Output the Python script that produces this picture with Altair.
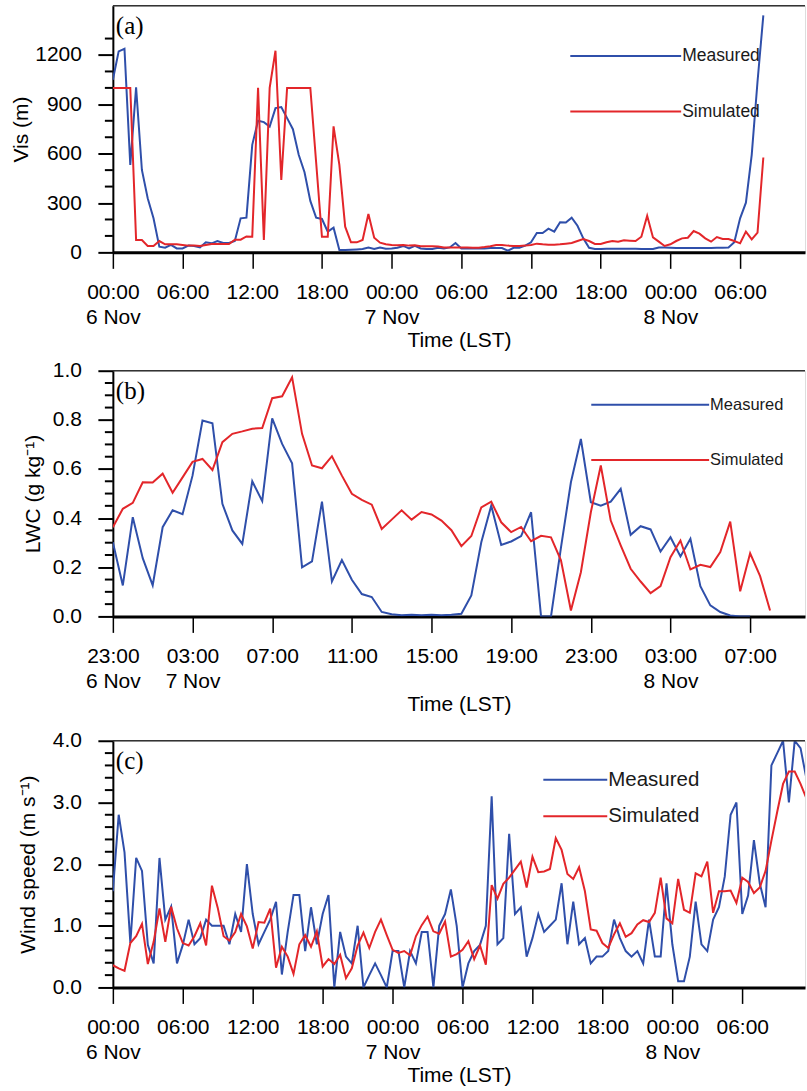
import altair as alt
import numpy as np
import pandas as pd

BLUE = "#2f4faa"
RED = "#e3262a"
FONT = "Liberation Sans"
SERIF = "Liberation Serif"

# ---------------- data (half-hourly) ----------------
# (a) Visibility, from 00:00 6 Nov
vis_start = 0.0
vis_measured = [
    1050, 1222, 1238, 532, 1003, 501, 329, 207, 35, 28,
    45, 24, 24, 41, 39, 30, 61, 55, 69, 57,
    57, 69, 207, 211, 654, 800, 792, 765, 877, 883,
    816, 749, 593, 487, 313, 211, 203, 126, 150, 14,
    14, 16, 18, 20, 30, 20, 30, 22, 24, 28,
    39, 24, 39, 24, 20, 20, 28, 24, 30, 57,
    24, 24, 24, 24, 24, 26, 26, 26, 10, 28,
    28, 41, 61, 118, 118, 144, 126, 183, 181, 211,
    162, 85, 28, 20, 20, 22, 22, 22, 22, 22,
    22, 20, 20, 20, 30, 30, 28, 26, 26, 26,
    26, 26, 26, 26, 28, 28, 30, 61, 207, 302,
    593, 1039, 1441,
]
vis_simulated = [
    1000, 1000, 1000, 1000, 75, 75, 39, 39, 69, 49,
    49, 49, 45, 41, 41, 39, 45, 51, 51, 51,
    51, 77, 77, 97, 95, 1000, 75, 1000, 1226, 440,
    1000, 1000, 1000, 1000, 1000, 548, 95, 95, 766, 532,
    156, 61, 61, 75, 233, 89, 59, 49, 45, 43,
    45, 41, 43, 37, 37, 37, 35, 30, 30, 30,
    30, 30, 28, 28, 32, 37, 45, 45, 41, 39,
    39, 41, 45, 53, 49, 47, 47, 49, 53, 57,
    69, 81, 69, 51, 51, 61, 69, 65, 73, 71,
    69, 95, 223, 91, 65, 39, 49, 69, 85, 89,
    130, 114, 85, 65, 93, 81, 81, 69, 55, 126,
    79, 120, 577,
]

# (b) LWC, from 23:00 6 Nov (hour 23)
lwc_start = 23.0
lwc_measured = [
    0.302, 0.126, 0.404, 0.237, 0.126, 0.363, 0.432, 0.416, 0.573, 0.797,
    0.786, 0.458, 0.350, 0.295, 0.550, 0.469, 0.806, 0.702, 0.623, 0.200,
    0.224, 0.467, 0.142, 0.229, 0.149, 0.091, 0.079, 0.018, 0.009, 0.005,
    0.007, 0.005, 0.007, 0.005, 0.007, 0.011, 0.085, 0.302, 0.451, 0.291,
    0.305, 0.327, 0.424, 0.0, 0.0, 0.28, 0.546, 0.722, 0.465, 0.451,
    0.467, 0.519, 0.332, 0.367, 0.354, 0.264, 0.322, 0.244, 0.316, 0.123,
    0.045, 0.018, 0.004, 0.0, 0.0,
]
lwc_simulated = [
    0.363, 0.438, 0.462, 0.546, 0.545, 0.581, 0.503, 0.566, 0.629, 0.641,
    0.596, 0.709, 0.743, 0.753, 0.764, 0.767, 0.888, 0.896, 0.973, 0.743,
    0.614, 0.603, 0.652, 0.573, 0.499, 0.474, 0.455, 0.356, 0.394, 0.432,
    0.394, 0.425, 0.415, 0.390, 0.351, 0.286, 0.327, 0.444, 0.467, 0.383,
    0.343, 0.364, 0.306, 0.328, 0.322, 0.228, 0.024, 0.180, 0.424, 0.614,
    0.390, 0.289, 0.194, 0.142, 0.095, 0.123, 0.241, 0.309, 0.191, 0.210,
    0.201, 0.262, 0.386, 0.102, 0.257, 0.164, 0.024,
]

# (c) Wind speed, from 00:00 6 Nov
ws_start = 0.0
ws_measured = [
    1.56, 2.80, 2.19, 0.72, 2.10, 1.89, 0.69, 0.39, 2.10, 1.10,
    1.31, 0.39, 0.69, 1.10, 0.70, 0.80, 1.10, 1.00, 1.00, 1.00,
    0.70, 1.19, 0.90, 2.00, 1.19, 0.70, 0.90, 1.10, 1.39, 0.21,
    0.90, 1.50, 1.50, 0.59, 1.30, 0.70, 1.19, 1.50, 0.00, 0.90,
    0.50, 0.39, 1.00, 0.00, 0.20, 0.39, 0.20, 0.00, 0.59, 0.59,
    0.00, 0.59, 0.39, 0.90, 0.90, 0.00, 1.00, 1.19, 1.59, 1.00,
    0.00, 0.39, 0.59, 0.69, 1.00, 3.10, 0.70, 0.80, 2.49, 1.19,
    1.30, 0.50, 0.80, 1.19, 0.90, 1.00, 1.10, 1.69, 0.70, 1.39,
    0.70, 0.80, 0.39, 0.50, 0.50, 0.59, 1.10, 0.80, 0.59, 0.50,
    0.59, 0.39, 1.10, 0.50, 0.50, 1.69, 0.70, 0.10, 0.10, 0.50,
    1.39, 0.70, 0.59, 1.10, 1.30, 1.80, 2.80, 3.00, 1.19, 1.49,
    2.39, 1.69, 1.30, 3.60, 3.80, 4.00, 3.00, 4.00, 3.88, 3.39,
]
ws_simulated = [
    0.36, 0.31, 0.27, 0.72, 0.83, 1.03, 0.38, 0.74, 1.28, 0.74,
    1.31, 0.96, 0.72, 0.68, 0.83, 1.04, 0.68, 1.65, 1.29, 0.83,
    0.76, 0.90, 1.19, 0.99, 0.63, 1.06, 1.05, 1.28, 0.32, 0.66,
    0.50, 0.22, 0.70, 0.85, 0.66, 0.91, 0.34, 0.46, 0.38, 0.53,
    0.15, 0.31, 0.68, 0.89, 0.64, 0.90, 1.10, 0.85, 0.61, 0.56,
    0.59, 0.52, 0.83, 1.01, 1.15, 0.91, 0.87, 1.07, 0.50, 0.54,
    0.61, 0.75, 0.46, 0.68, 0.37, 1.66, 1.44, 1.68, 1.78, 1.91,
    2.04, 1.62, 2.12, 1.87, 1.88, 1.92, 2.42, 2.23, 1.84, 1.76,
    1.95, 1.56, 0.94, 0.92, 0.72, 0.64, 0.86, 1.04, 0.82, 0.88,
    1.02, 1.09, 1.06, 1.21, 1.78, 1.12, 1.04, 1.76, 1.26, 1.21,
    1.85, 1.80, 2.04, 1.21, 1.56, 1.56, 1.57, 1.37, 1.78, 1.71,
    1.53, 1.62, 1.89, 2.38, 2.85, 3.30, 3.50, 3.50, 3.30, 3.07,
]

# axis tick values
vis_major = [0, 300, 600, 900, 1200]
vis_minor = [100, 200, 400, 500, 700, 800, 1000, 1100, 1300]
lwc_major = [0.0, 0.2, 0.4, 0.6, 0.8, 1.0]
lwc_minor = [0.05, 0.1, 0.15, 0.25, 0.3, 0.35, 0.45, 0.5, 0.55,
             0.65, 0.7, 0.75, 0.85, 0.9, 0.95]
ws_major = [0.0, 1.0, 2.0, 3.0, 4.0]
ws_minor = [0.2, 0.4, 0.6, 0.8, 1.2, 1.4, 1.6, 1.8, 2.2, 2.4, 2.6, 2.8,
            3.2, 3.4, 3.6, 3.8]
x6_ticks = [0, 6, 12, 18, 24, 30, 36, 42, 48, 54]
x4_ticks = [23, 27, 31, 35, 39, 43, 47, 51, 55]

SERIES = ["Measured", "Simulated"]

W = 693


def long_df(start, meas, sim):
    a = pd.DataFrame({"t": start + 0.5 * np.arange(len(meas)), "v": meas, "s": SERIES[0]})
    b = pd.DataFrame({"t": start + 0.5 * np.arange(len(sim)), "v": sim, "s": SERIES[1]})
    return pd.concat([a, b], ignore_index=True)


LBL6 = ("[(datum.value % 24 < 10 ? '0' : '') + (datum.value % 24) + ':00', "
        "datum.value % 24 === 0 ? (6 + floor(datum.value / 24)) + ' Nov' : '']")
LBL4 = ("[(datum.value % 24 < 10 ? '0' : '') + (datum.value % 24) + ':00', "
        "datum.value === 23 ? '6 Nov' : (datum.value % 24 < 4 ? (6 + floor(datum.value / 24)) + ' Nov' : '')]")


def panel(df, xdom, xvals, xexpr, ydom, ymajor, yminor, yfmt, ytitle, ytitle_x,
          h, tag, leg_x1, leg_x2, leg_y1, leg_y2, leg_fs, spacer=0):
    xaxis = alt.Axis(values=xvals, labelExpr=xexpr, title="Time (LST)", grid=False,
                     tickSize=16, tickWidth=1.5, tickColor="black",
                     domainWidth=3, domainColor="black",
                     labelFont=FONT, labelFontSize=21, labelColor="black",
                     labelPadding=13.5, labelLineHeight=24.5, labelFlush=False,
                     labelOverlap=False,
                     titleFont=FONT, titleFontSize=21, titleFontWeight="normal",
                     titleColor="black", titleY=94, titleBaseline="alphabetic")
    yaxis = alt.Axis(values=ymajor, format=yfmt, title=ytitle, grid=False,
                     tickSize=15, tickWidth=2, tickColor="black",
                     domainWidth=2, domainColor="black",
                     labelFont=FONT, labelFontSize=21, labelColor="black",
                     labelPadding=16.5, labelFlush=False, labelOverlap=False,
                     titleFont=FONT, titleFontSize=21, titleFontWeight="normal",
                     titleColor="black", titleX=ytitle_x, titleBaseline="middle")
    yscale = alt.Scale(domain=ydom, nice=False, zero=False)
    lines = alt.Chart(df).mark_line(strokeWidth=2, clip=True).encode(
        x=alt.X("t:Q", scale=alt.Scale(domain=xdom, nice=False, zero=False), axis=xaxis),
        y=alt.Y("v:Q", scale=yscale, axis=yaxis),
        color=alt.Color("s:N", scale=alt.Scale(domain=SERIES, range=[BLUE, RED]), legend=None),
    )
    # minor y ticks, drawn through the shared y scale
    minor = alt.Chart(pd.DataFrame({"v": yminor})).mark_rule(
        color="black", strokeWidth=2, clip=False).encode(
        y=alt.Y("v:Q", scale=yscale, axis=yaxis),
        x=alt.value(-8), x2=alt.value(0),
    )
    one = pd.DataFrame({"k": [0]})
    top = alt.Chart(one).mark_rule(color="#333333", strokeWidth=1.5).encode(
        x=alt.value(0), x2=alt.value(W), y=alt.value(0))
    tagtxt = alt.Chart(one).mark_text(text=tag, font=SERIF, fontSize=25, align="left",
                                      baseline="alphabetic", color="black").encode(
        x=alt.value(3), y=alt.value(28))
    layers = [minor, lines, top, tagtxt]
    for name, col, yy in ((SERIES[0], BLUE, leg_y1), (SERIES[1], RED, leg_y2)):
        layers.append(alt.Chart(one).mark_rule(color=col, strokeWidth=2).encode(
            x=alt.value(leg_x1), x2=alt.value(leg_x2), y=alt.value(yy)))
        layers.append(alt.Chart(one).mark_text(text=name, font=FONT, fontSize=leg_fs,
                                               align="left", baseline="middle",
                                               color="#1a1a1a").encode(
            x=alt.value(leg_x2 + 1), y=alt.value(yy)))
    if spacer:
        layers.append(alt.Chart(one).mark_rule(strokeOpacity=0, color="white").encode(
            x=alt.value(0), y=alt.value(-spacer), y2=alt.value(0)))
    return alt.layer(*layers).properties(width=W, height=h)


pa = panel(long_df(vis_start, vis_measured, vis_simulated), [0, W / 11.63], x6_ticks, LBL6,
           [0, 1500], vis_major, vis_minor, "d", "Vis (m)", -91,
           247, "(a)", 458, 569, 50.5, 106, 17.5)
pb = panel(long_df(lwc_start, lwc_measured, lwc_simulated), [23, 23 + W / 19.94], x4_ticks, LBL4,
           [0, 1.0], lwc_major, lwc_minor, ".1f", "LWC (g kg\u207b\u00b9)", -79.5,
           246, "(b)", 479, 597, 34, 89.3, 16.5)
pc = panel(long_df(ws_start, ws_measured, ws_simulated), [0, W / 11.67], x6_ticks, LBL6,
           [0, 4.0], ws_major, ws_minor, ".1f", "Wind speed (m s\u207b\u00b9)", -84.5,
           247, "(c)", 431, 495, 39, 75.7, 20.5, spacer=17.5)

chart = alt.vconcat(pa, pb, pc, spacing=7.5).properties(
    padding={"left": 10, "top": 3, "right": 0, "bottom": 0}
).configure_view(stroke="transparent").configure(font=FONT)

chart.save("out.html", embed_options={"renderer": "svg", "actions": False})
